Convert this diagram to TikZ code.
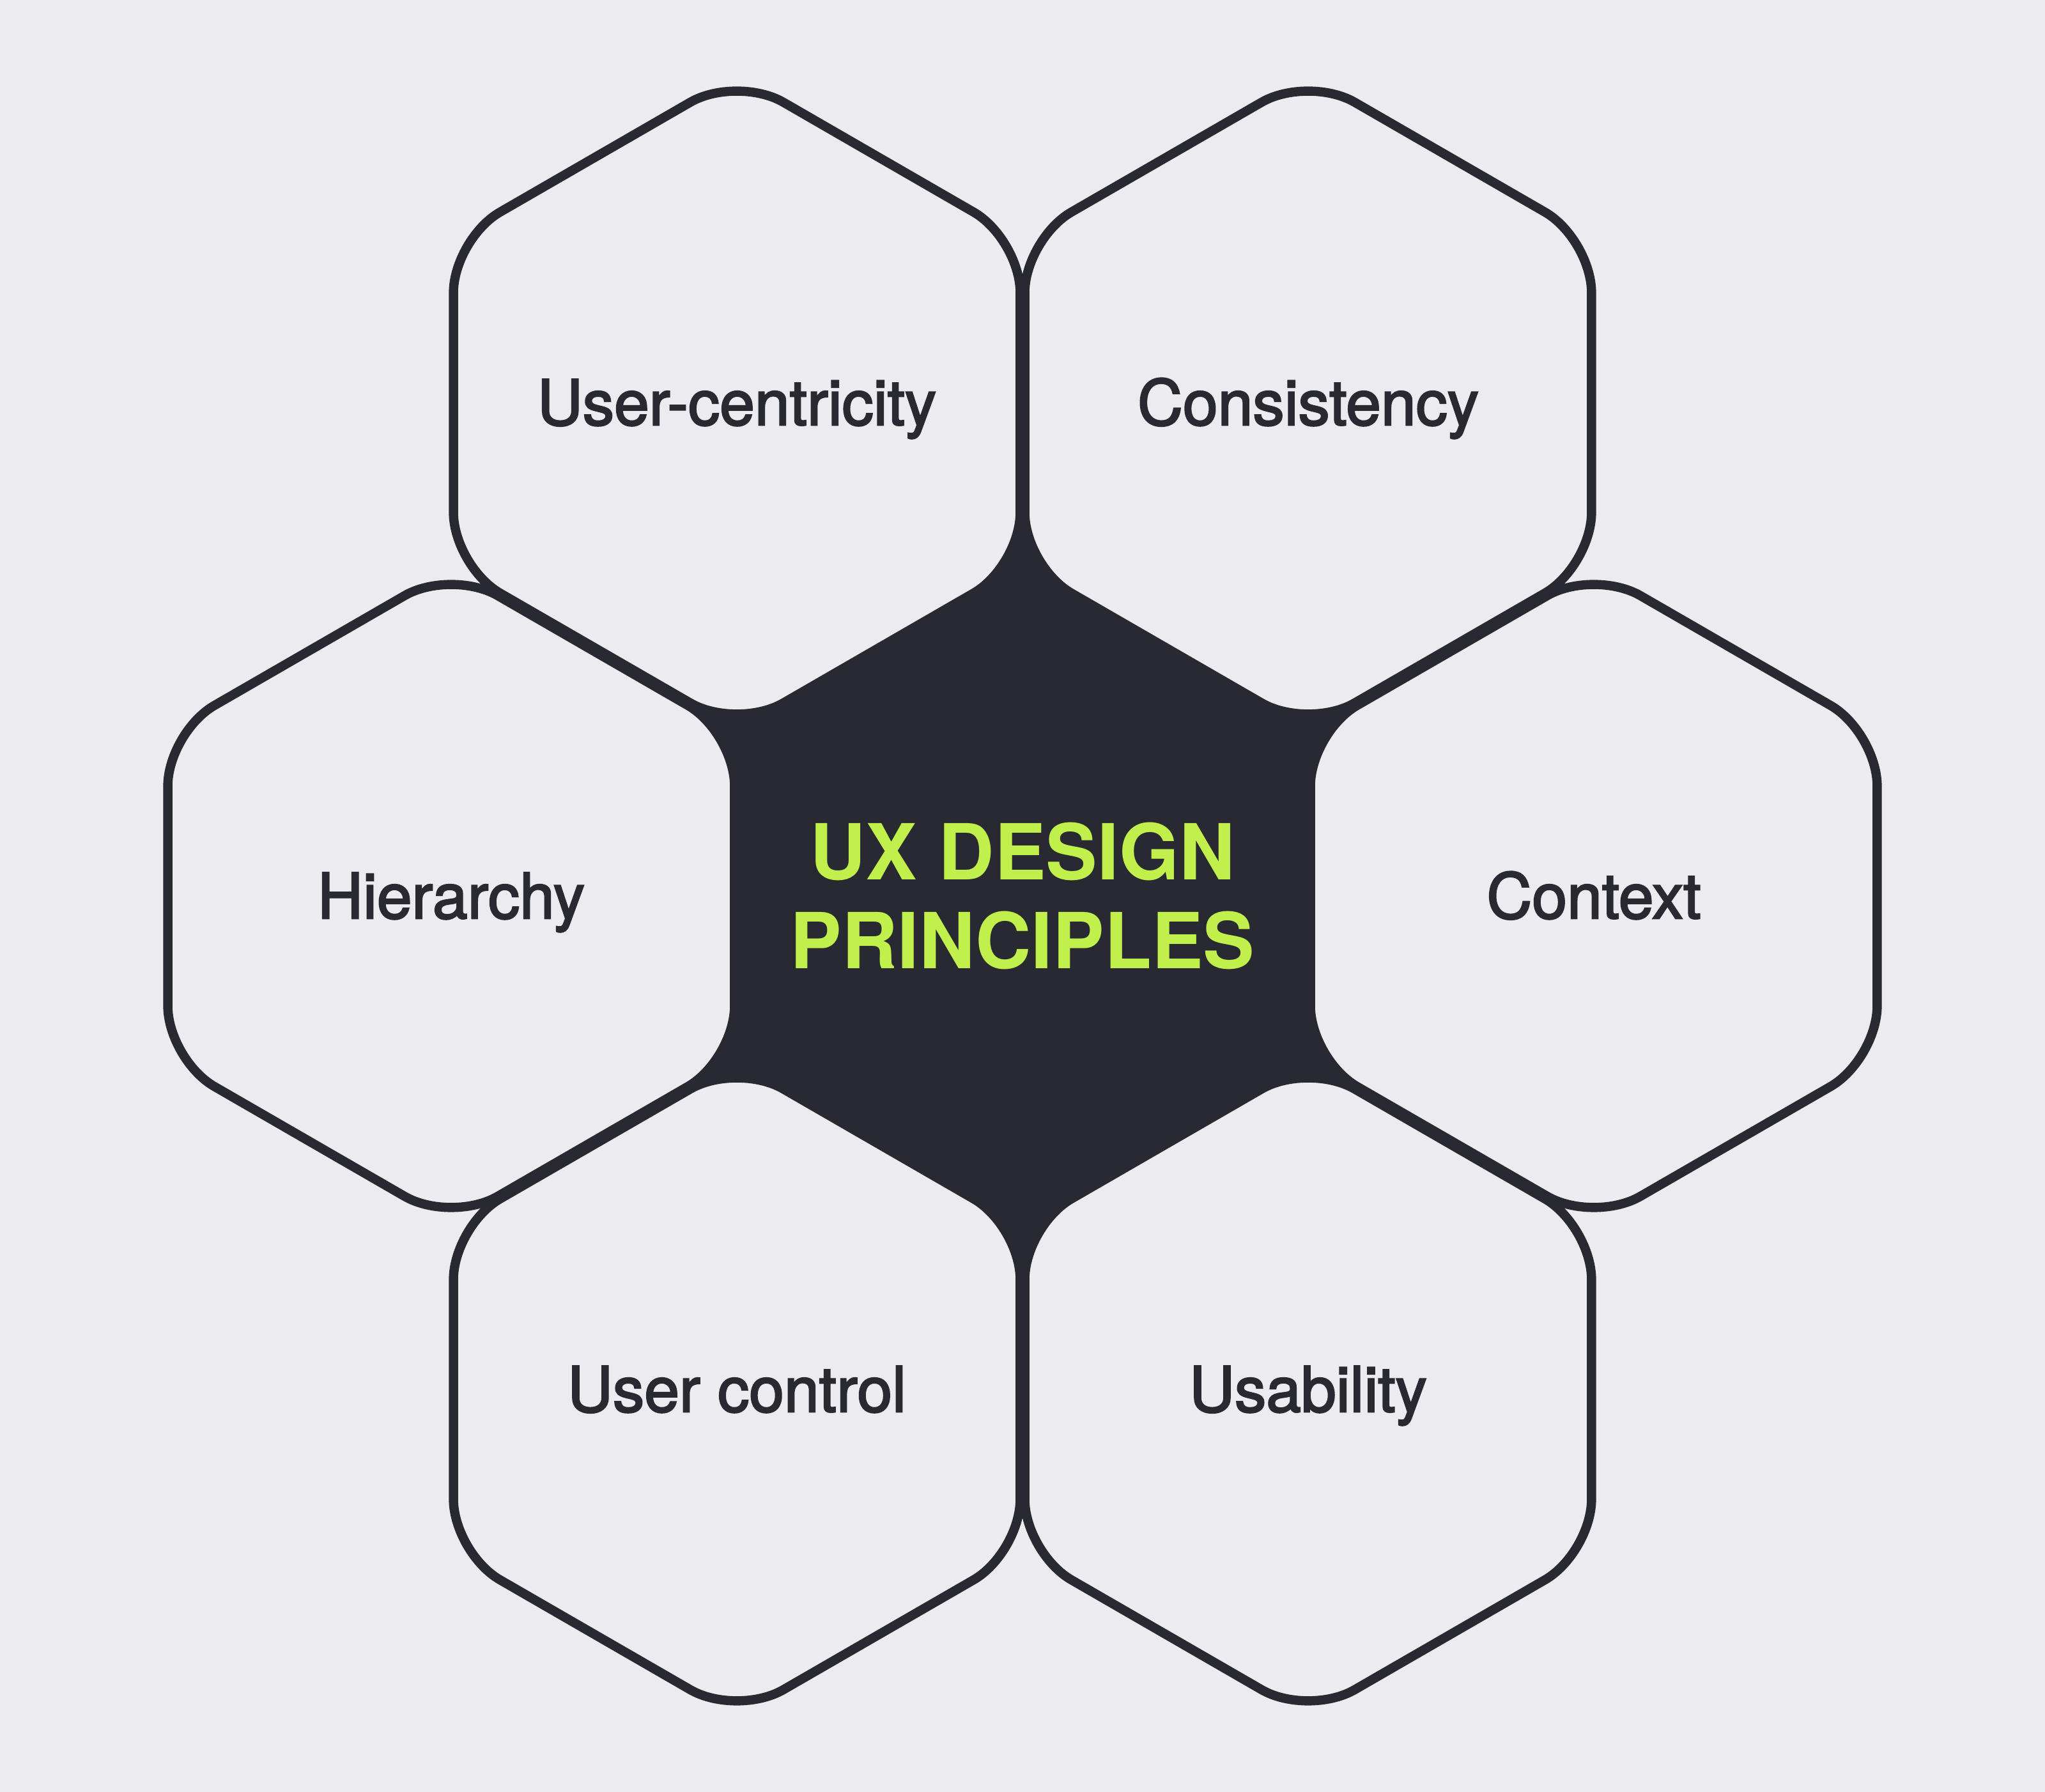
\documentclass[tikz,border=0pt]{standalone}
\usepackage{fontspec}
\setmainfont{TeX Gyre Heros}
\newfontfamily\cellfont{TeX Gyre Heros}[FakeBold=2.5]
\usetikzlibrary{shapes.geometric, positioning}
\definecolor{uxbg}{RGB}{236,235,239}
\definecolor{uxdark}{RGB}{40,41,49}
\definecolor{uxlime}{RGB}{193,239,75}

\begin{document}
\begin{tikzpicture}[
    node distance=7.72cm and 4.47cm, on grid,
    hexcell/.style={regular polygon, regular polygon sides=6, shape border rotate=30, minimum size=10.24cm, inner sep=0pt, draw=uxdark, fill=uxbg, line width=4.1pt, rounded corners=0.84cm, text=uxdark, font=\cellfont\fontsize{28}{32}\selectfont, text height=20pt, text depth=0pt},
    hexcore/.style={regular polygon, regular polygon sides=6, shape border rotate=30, minimum size=14cm, inner sep=0pt, fill=uxdark, text=uxlime, align=center, font=\fontsize{34.4}{39.8}\selectfont\bfseries}
]
\fill[uxbg] (-16,-14.02) rectangle (16,14.02);
\node[hexcore] (core) {UX DESIGN\\PRINCIPLES};
\node[hexcell, above left=of core] (usercentric) {User-centricity};
\node[hexcell, above right=of core] (consistency) {Consistency};
\node[hexcell, left=8.94cm of core] (hierarchy) {Hierarchy};
\node[hexcell, right=8.94cm of core] (context) {Context};
\node[hexcell, below left=of core] (usercontrol) {User control};
\node[hexcell, below right=of core] (usability) {Usability};
\end{tikzpicture}
\end{document}
